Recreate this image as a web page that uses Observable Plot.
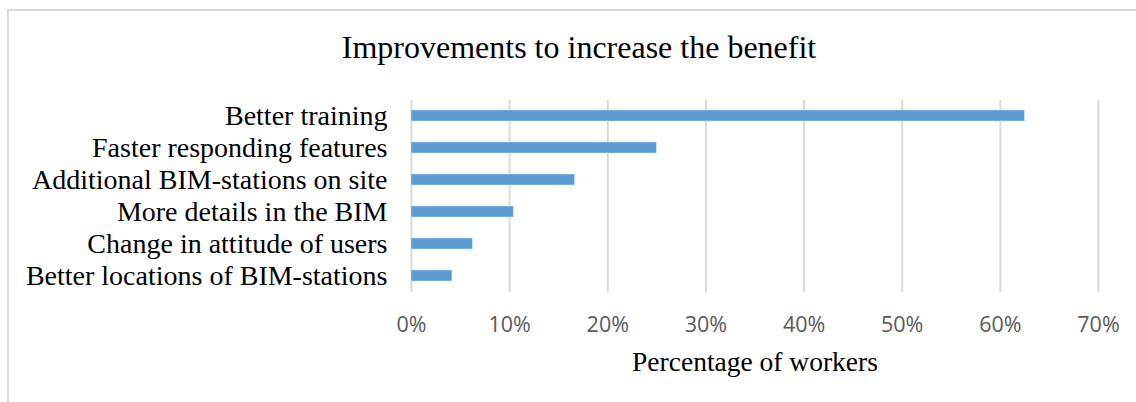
<!DOCTYPE html>
<html>
<head>
<meta charset="utf-8">
<script src="https://cdn.jsdelivr.net/npm/d3@7"></script>
<script src="https://cdn.jsdelivr.net/npm/@observablehq/plot@0.6"></script>
<style>
  html, body { margin: 0; padding: 0; background: #fff; }
  #wrap { position: relative; width: 1136px; height: 402px; overflow: hidden; background: #fff; }
  #frame { position: absolute; left: 7px; top: 9px; width: 1300px; height: 600px; border: 2px solid #d9d9d9; box-sizing: border-box; }
  #chart { position: absolute; left: 0; top: 0; }
</style>
</head>
<body>
<div id="wrap"><div id="frame"></div><div id="chart"></div></div>
<script>
const title = "Improvements to increase the benefit";
const xTitle = "Percentage of workers";
const categories = [
  "Better training",
  "Faster responding features",
  "Additional BIM-stations on site",
  "More details in the BIM",
  "Change in attitude of users",
  "Better locations of BIM-stations"
];
const values = [0.625, 0.25, 0.1667, 0.1042, 0.0625, 0.0417];
const xTicks = [0, 0.1, 0.2, 0.3, 0.4, 0.5, 0.6, 0.7];

const data = categories.map((c, i) => ({label: c, value: values[i]}));

const chart = Plot.plot({
  width: 1136,
  height: 402,
  marginLeft: 411,
  marginRight: 38,
  marginTop: 100,
  marginBottom: 110,
  style: {fontFamily: "'Liberation Serif', 'Times New Roman', serif", background: "transparent", overflow: "visible"},
  x: {domain: [0, 0.7], ticks: xTicks},
  y: {domain: categories, paddingInner: 0.656, paddingOuter: 0.328},
  marks: [
    Plot.gridX(xTicks, {stroke: "#d9d9d9", strokeOpacity: 1, strokeWidth: 2}),
    Plot.barX(data, {x: "value", y: "label", fill: "#5B9BD5", stroke: "#dbe8f5", strokeWidth: 0.5}),
    Plot.axisX(xTicks, {tickSize: 0, tickPadding: 24, fontSize: 21.5, fill: "#595959",
      fontFamily: "'Open Sans', sans-serif", tickFormat: d3.format(".0%"), label: null}),
    Plot.axisY({tickSize: 0, tickPadding: 24, fontSize: 28, fill: "#000", label: null}),
    Plot.text([title], {text: d => d, frameAnchor: "top", dx: -176, dy: -53, fontSize: 32, fill: "#000", lineAnchor: "middle", textAnchor: "middle"}),
    Plot.text([xTitle], {text: d => d, frameAnchor: "bottom", dx: 0, dy: 70, fontSize: 27.5, fill: "#000", lineAnchor: "middle", textAnchor: "middle"})
  ]
});
document.getElementById("chart").appendChild(chart);
</script>
</body>
</html>
